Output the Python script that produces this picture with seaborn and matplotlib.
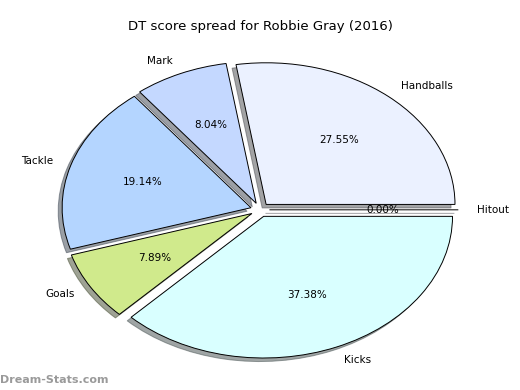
import matplotlib
matplotlib.use("Agg")
import matplotlib.pyplot as plt
import seaborn as sns

# Data
labels = ["Handballs", "Mark", "Tackle", "Goals", "Kicks", "Hitout"]
shares = [27.55, 8.04, 19.14, 7.89, 37.38, 0.00]
colors = ["#ebf1ff", "#c4d8ff", "#b4d5ff", "#d0ea8c", "#d9ffff", "#e8e8ff"]
title = "DT score spread for Robbie Gray (2016)"

sns.set_style("white")
plt.rcParams["font.family"] = ["DejaVu Sans"]
plt.rcParams["text.color"] = "black"

fig = plt.figure(figsize=(5.2, 3.9), dpi=100)
ax = fig.add_axes([0.046, 0.008, 0.908, 0.908])

ax.pie(
    shares,
    labels=labels,
    colors=colors,
    explode=[0.05] * len(shares),
    autopct="%1.2f%%",
    shadow={"ox": -0.015, "oy": -0.018},
    startangle=0,
    wedgeprops={"edgecolor": "black", "linewidth": 0.7},
    textprops={"fontsize": 7.5, "color": "black"},
)
ax.set_aspect("auto")
ax.set_xlim(-1.25, 1.25)
ax.set_ylim(-1.25, 1.25)

fig.text(0.5, 0.933, title, ha="center", va="center", fontsize=9.5, color="black")
fig.text(0.0, 0.025, "Dream-Stats.com", ha="left", va="center",
         fontsize=8, color="#9a9a9a", fontweight="bold")

fig.savefig("out.png", dpi=100)
